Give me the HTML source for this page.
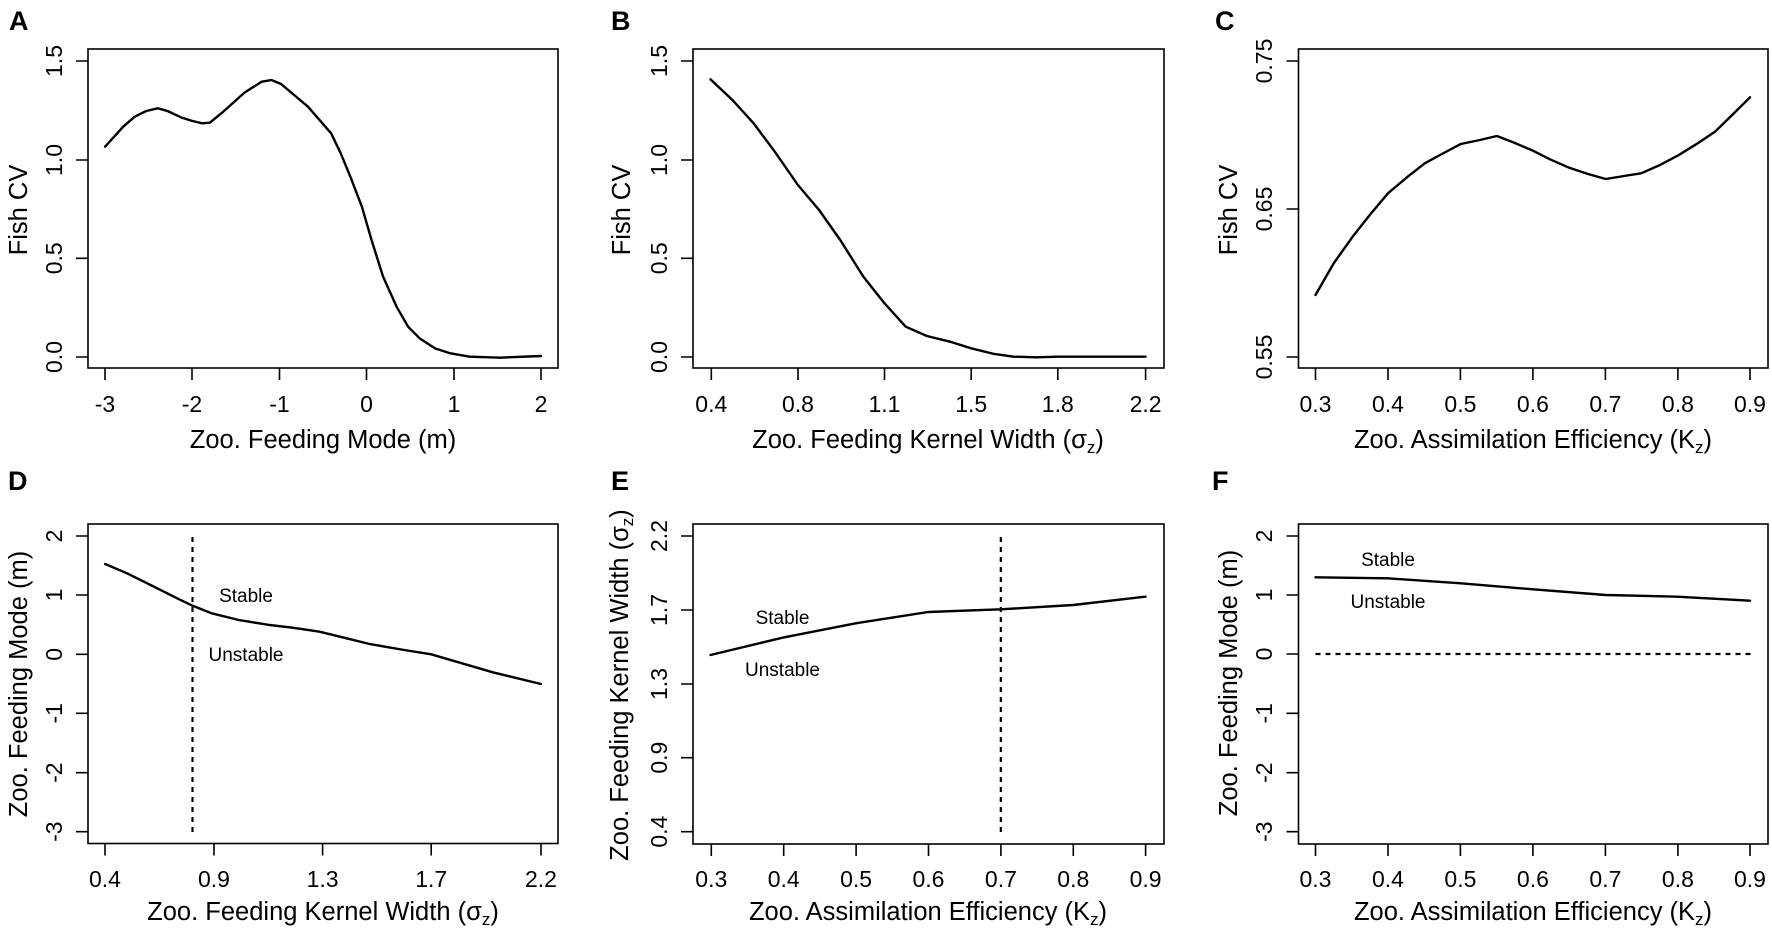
<!DOCTYPE html>
<html><head><meta charset="utf-8"><style>
html,body{margin:0;padding:0;background:#fff;}
svg{display:block;font-family:"Liberation Sans",Arial,sans-serif;}
</style></head><body>
<svg width="1772" height="930" viewBox="0 0 1772 930" xmlns="http://www.w3.org/2000/svg">
<g fill="none" stroke="#000" stroke-width="1.6">
<rect x="88" y="49" width="470" height="319"/>
<rect x="693" y="49" width="471" height="319"/>
<rect x="1298.5" y="49" width="469.5" height="319"/>
<rect x="88" y="524" width="470" height="319.5"/>
<rect x="693" y="524" width="471" height="320"/>
<rect x="1298.5" y="524" width="469.5" height="320"/>
<path d="M105 368v12M192 368v12M279.5 368v12M366.5 368v12M454 368v12M541 368v12M88 357h-12M88 258.3h-12M88 160h-12M88 61h-12"/>
<path d="M711.3 368v12M798 368v12M884.5 368v12M971.2 368v12M1057.8 368v12M1145.6 368v12M693 357h-12M693 258.3h-12M693 160h-12M693 61h-12"/>
<path d="M1315.5 368v12M1388 368v12M1460.4 368v12M1532.9 368v12M1605.4 368v12M1677.9 368v12M1750 368v12M1298.5 357h-12M1298.5 209h-12M1298.5 61h-12"/>
<path d="M105 843.5v12M214 843.5v12M322.6 843.5v12M431.2 843.5v12M541 843.5v12M88 536h-12M88 595h-12M88 654.3h-12M88 713.3h-12M88 772.7h-12M88 831.7h-12"/>
<path d="M711.3 844v12M783.7 844v12M856.1 844v12M928.5 844v12M1000.9 844v12M1073.3 844v12M1145.6 844v12M693 536h-12M693 610h-12M693 684h-12M693 757.7h-12M693 831.7h-12"/>
<path d="M1315.5 844v12M1388 844v12M1460.4 844v12M1532.9 844v12M1605.4 844v12M1677.9 844v12M1750 844v12M1298.5 536h-12M1298.5 595h-12M1298.5 654h-12M1298.5 713.3h-12M1298.5 772.7h-12M1298.5 831.7h-12"/>
</g>
<g fill="none" stroke="#000" stroke-width="2.4" stroke-linejoin="round" stroke-linecap="round">
<g transform="translate(0,0) scale(0.385,0.33333)">
<path vector-effect="non-scaling-stroke" d="M273 440 L320 380 L350 350 L380 333 L410 325 L435 333 L470 352 L500 363 L525 370 L545 368 L580 335 L635 278 L680 245 L705 240 L730 252 L800 320 L860 400 L885 460 L910 530 L940 620 L965 720 L995 830 L1030 920 L1060 980 L1090 1015 L1130 1045 L1170 1060 L1220 1070 L1300 1073 L1405 1068"/>
</g>
<g transform="translate(590,0) scale(0.385,0.33333)">
<path vector-effect="non-scaling-stroke" d="M313 238 L370 300 L425 370 L480 455 L540 555 L595 630 L650 720 L710 830 L765 910 L820 980 L875 1008 L935 1025 L990 1045 L1050 1062 L1100 1070 L1160 1072 L1215 1070 L1443 1070"/>
</g>
<g transform="translate(1180,0) scale(0.3795,0.33333)">
<path vector-effect="non-scaling-stroke" d="M357 885 L405 790 L455 710 L500 645 L548 580 L600 530 L645 490 L690 462 L740 432 L790 420 L835 408 L880 428 L930 452 L975 478 L1025 503 L1075 522 L1122 537 L1170 528 L1215 520 L1265 495 L1310 468 L1360 433 L1410 395 L1455 345 L1502 292"/>
</g>
<g transform="translate(0,440) scale(0.385,0.33333)">
<path vector-effect="non-scaling-stroke" d="M273 372 L330 400 L400 440 L460 475 L500 497 L550 520 L620 540 L700 555 L760 563 L830 575 L900 595 L960 612 L1050 630 L1120 643 L1200 670 L1280 697 L1405 732"/>
</g>
<g transform="translate(590,460) scale(0.385,0.33333)">
<path vector-effect="non-scaling-stroke" d="M313 585 L500 533 L690 490 L878 456 L1067 448 L1255 435 L1443 410"/>
</g>
<g transform="translate(1180,460) scale(0.3795,0.33333)">
<path vector-effect="non-scaling-stroke" d="M357 352 L548 355 L740 370 L930 388 L1122 405 L1310 410 L1502 422"/>
</g>
</g>
<g stroke="#000" stroke-width="2.2" stroke-dasharray="5,5" fill="none">
<path d="M192.5 537V833"/>
<path d="M1000.8 537V833"/>
<path d="M1315.5 654H1755"/>
</g>
<g font-size="23" fill="#000" text-anchor="middle">
<text x="105" y="412">-3</text><text x="192" y="412">-2</text><text x="279.5" y="412">-1</text><text x="366.5" y="412">0</text><text x="454" y="412">1</text><text x="541" y="412">2</text>
<text transform="translate(62,357) rotate(-90)">0.0</text><text transform="translate(62,258.3) rotate(-90)">0.5</text><text transform="translate(62,160) rotate(-90)">1.0</text><text transform="translate(62,61) rotate(-90)">1.5</text>
<text x="711.3" y="412">0.4</text><text x="798" y="412">0.8</text><text x="884.5" y="412">1.1</text><text x="971.2" y="412">1.5</text><text x="1057.8" y="412">1.8</text><text x="1145.6" y="412">2.2</text>
<text transform="translate(667,357) rotate(-90)">0.0</text><text transform="translate(667,258.3) rotate(-90)">0.5</text><text transform="translate(667,160) rotate(-90)">1.0</text><text transform="translate(667,61) rotate(-90)">1.5</text>
<text x="1315.5" y="412">0.3</text><text x="1388" y="412">0.4</text><text x="1460.4" y="412">0.5</text><text x="1532.9" y="412">0.6</text><text x="1605.4" y="412">0.7</text><text x="1677.9" y="412">0.8</text><text x="1750" y="412">0.9</text>
<text transform="translate(1272,357) rotate(-90)">0.55</text><text transform="translate(1272,209) rotate(-90)">0.65</text><text transform="translate(1272,61) rotate(-90)">0.75</text>
<text x="105" y="887">0.4</text><text x="214" y="887">0.9</text><text x="322.6" y="887">1.3</text><text x="431.2" y="887">1.7</text><text x="541" y="887">2.2</text>
<text transform="translate(62,536) rotate(-90)">2</text><text transform="translate(62,595) rotate(-90)">1</text><text transform="translate(62,654.3) rotate(-90)">0</text><text transform="translate(62,713.3) rotate(-90)">-1</text><text transform="translate(62,772.7) rotate(-90)">-2</text><text transform="translate(62,831.7) rotate(-90)">-3</text>
<text x="711.3" y="887">0.3</text><text x="783.7" y="887">0.4</text><text x="856.1" y="887">0.5</text><text x="928.5" y="887">0.6</text><text x="1000.9" y="887">0.7</text><text x="1073.3" y="887">0.8</text><text x="1145.6" y="887">0.9</text>
<text transform="translate(667,536) rotate(-90)">2.2</text><text transform="translate(667,610) rotate(-90)">1.7</text><text transform="translate(667,684) rotate(-90)">1.3</text><text transform="translate(667,757.7) rotate(-90)">0.9</text><text transform="translate(667,831.7) rotate(-90)">0.4</text>
<text x="1315.5" y="887">0.3</text><text x="1388" y="887">0.4</text><text x="1460.4" y="887">0.5</text><text x="1532.9" y="887">0.6</text><text x="1605.4" y="887">0.7</text><text x="1677.9" y="887">0.8</text><text x="1750" y="887">0.9</text>
<text transform="translate(1272,536) rotate(-90)">2</text><text transform="translate(1272,595) rotate(-90)">1</text><text transform="translate(1272,654) rotate(-90)">0</text><text transform="translate(1272,713.3) rotate(-90)">-1</text><text transform="translate(1272,772.7) rotate(-90)">-2</text><text transform="translate(1272,831.7) rotate(-90)">-3</text>
</g>
<g font-size="25.5" fill="#000" text-anchor="middle">
<text x="323" y="448">Zoo. Feeding Mode (m)</text>
<text x="928" y="448">Zoo. Feeding Kernel Width (σ<tspan font-size="17" dy="5">z</tspan><tspan dy="-5">)</tspan></text>
<text x="1533" y="448">Zoo. Assimilation Efficiency (K<tspan font-size="17" dy="5">z</tspan><tspan dy="-5">)</tspan></text>
<text x="323" y="920">Zoo. Feeding Kernel Width (σ<tspan font-size="17" dy="5">z</tspan><tspan dy="-5">)</tspan></text>
<text x="928" y="920">Zoo. Assimilation Efficiency (K<tspan font-size="17" dy="5">z</tspan><tspan dy="-5">)</tspan></text>
<text x="1533" y="920">Zoo. Assimilation Efficiency (K<tspan font-size="17" dy="5">z</tspan><tspan dy="-5">)</tspan></text>
<text transform="translate(27,210) rotate(-90)">Fish CV</text>
<text transform="translate(630,210) rotate(-90)">Fish CV</text>
<text transform="translate(1237,210) rotate(-90)">Fish CV</text>
<text transform="translate(27,684) rotate(-90)">Zoo. Feeding Mode (m)</text>
<text transform="translate(628,685) rotate(-90)">Zoo. Feeding Kernel Width (σ<tspan font-size="17" dy="5">z</tspan><tspan dy="-5">)</tspan></text>
<text transform="translate(1237,683) rotate(-90)">Zoo. Feeding Mode (m)</text>
</g>
<g font-size="19" fill="#000" text-anchor="middle">
<text x="246" y="602">Stable</text><text x="246" y="661">Unstable</text>
<text x="782.5" y="624">Stable</text><text x="782.5" y="676">Unstable</text>
<text x="1388" y="566">Stable</text><text x="1388" y="608">Unstable</text>
</g>
<g font-size="27" font-weight="bold" fill="#000">
<text x="9" y="30">A</text><text x="611" y="30">B</text><text x="1215" y="30">C</text>
<text x="8" y="490">D</text><text x="611" y="490">E</text><text x="1212" y="490">F</text>
</g>
</svg>
</body></html>
